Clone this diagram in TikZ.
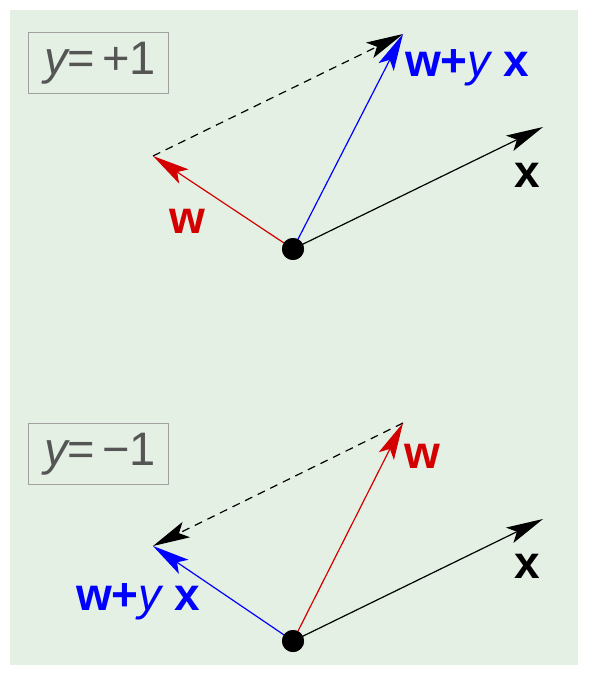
\documentclass[tikz,border=0pt]{standalone}
\usepackage{fontspec}
\setmainfont{Liberation Sans}
\usetikzlibrary{arrows.meta}
\definecolor{bgc}{HTML}{E4F0E4}
\definecolor{redc}{HTML}{D40000}
\definecolor{bluec}{HTML}{0000FF}
\definecolor{graytxt}{HTML}{555555}
\definecolor{graybox}{HTML}{A0A0A0}
\begin{document}
\begin{tikzpicture}[x=1pt,y=-1pt,
  vec/.style={line width=1.2pt,-{Stealth[length=37pt,width=17pt,inset=8pt]}},
  dvec/.style={vec,black,dash pattern=on 8pt off 6pt},
  lbl/.style={anchor=base west,inner sep=0pt,font=\fontsize{46}{52}\selectfont},
  ybox/.style={draw=graybox,line width=1pt,minimum width=140pt,minimum height=61pt,inner sep=0pt,anchor=north west,text=graytxt,font=\fontsize{47}{52}\selectfont},
  dot/.style={circle,fill=black,minimum size=22pt,inner sep=0pt}]
\useasboundingbox (0,0) rectangle (588,676);
\fill[bgc] (10,10) rectangle (578,665);
% top panel
\node[ybox] (b1) at (28,32) {\hspace{3pt}\itshape y\upshape=\hspace{7pt}+1};
\node[dot] (o1) at (293,249) {};
\coordinate (x1) at (543,127);
\coordinate (w1) at (153,156);
\coordinate (s1) at (403,34);
\draw[dvec] (w1) -- (s1);
\draw[vec,black] (o1.center) -- (x1);
\draw[vec,redc] (o1.center) -- (w1);
\draw[vec,bluec] (o1.center) -- (s1);
\node[dot] at (o1) {};
\node[lbl,text=bluec] (ls1) at (405,77) {\bfseries w+\mdseries\itshape y\upshape\bfseries\ x};
\node[lbl] (lx1) at (514,188) {\bfseries x};
\node[lbl,text=redc] (lw1) at (169,233) {\bfseries w};
% bottom panel
\node[ybox] (b2) at (28,423) {\hspace{3pt}\itshape y\upshape=\hspace{7pt}\char"2212 1};
\node[dot] (o2) at (293,641) {};
\coordinate (x2) at (543,519);
\coordinate (w2) at (403,423);
\coordinate (s2) at (153,546);
\draw[dvec] (w2) -- (s2);
\draw[vec,black] (o2.center) -- (x2);
\draw[vec,redc] (o2.center) -- (w2);
\draw[vec,bluec] (o2.center) -- (s2);
\node[dot] at (o2) {};
\node[lbl,text=redc] (lw2) at (404,468) {\bfseries w};
\node[lbl] (lx2) at (514,578) {\bfseries x};
\node[lbl,text=bluec] (ls2) at (76,610) {\bfseries w+\mdseries\itshape y\upshape\bfseries\ x};
\end{tikzpicture}
\end{document}
